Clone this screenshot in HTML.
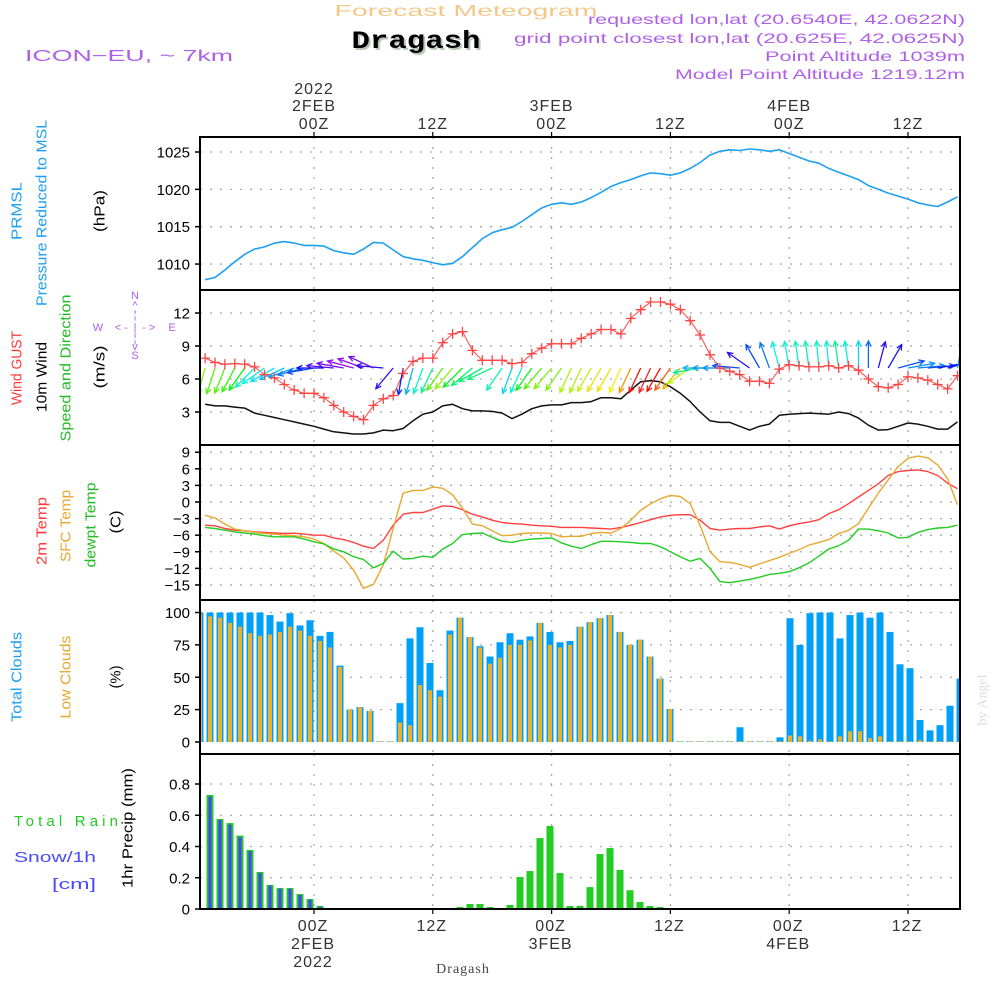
<!DOCTYPE html>
<html><head><meta charset="utf-8"><title>Meteogram Dragash</title>
<style>
html,body{margin:0;padding:0;background:#fff;}
svg{display:block;}
text{font-family:"Liberation Sans",sans-serif;}
</style></head>
<body>
<svg id="chart" xmlns="http://www.w3.org/2000/svg" width="1000" height="1000" viewBox="0 0 1000 1000">
<rect x="0" y="0" width="1000" height="1000" fill="#fff"/>
<text x="466" y="16" text-anchor="middle" font-size="16" fill="#f3c98a" textLength="263" lengthAdjust="spacingAndGlyphs">Forecast Meteogram</text>
<text x="418" y="50" text-anchor="middle" font-size="25" font-weight="bold" fill="#b8c8b8" style="font-family:'Liberation Mono',monospace" textLength="129" lengthAdjust="spacingAndGlyphs">Dragash</text>
<text x="416" y="48" text-anchor="middle" font-size="25" font-weight="bold" fill="#000" style="font-family:'Liberation Mono',monospace" textLength="129" lengthAdjust="spacingAndGlyphs">Dragash</text>
<text x="25" y="61" font-size="16" fill="#b060e8" textLength="208" lengthAdjust="spacingAndGlyphs">ICON−EU, ~ 7km</text>
<text x="965" y="24" text-anchor="end" font-size="14" fill="#b060e8" textLength="377" lengthAdjust="spacingAndGlyphs">requested lon,lat (20.6540E, 42.0622N)</text>
<text x="965" y="43" text-anchor="end" font-size="14" fill="#b060e8" textLength="451" lengthAdjust="spacingAndGlyphs">grid point closest lon,lat (20.625E, 42.0625N)</text>
<text x="965" y="61" text-anchor="end" font-size="14" fill="#b060e8" textLength="200" lengthAdjust="spacingAndGlyphs">Point Altitude 1039m</text>
<text x="965" y="79" text-anchor="end" font-size="14" fill="#b060e8" textLength="290" lengthAdjust="spacingAndGlyphs">Model Point Altitude 1219.12m</text>

<g>
<text transform="translate(17,211) rotate(-90)" text-anchor="middle" dominant-baseline="central" font-size="15" fill="#1ea0f0" textLength="58" lengthAdjust="spacingAndGlyphs">PRMSL</text>
<text transform="translate(42,213) rotate(-90)" text-anchor="middle" dominant-baseline="central" font-size="15" fill="#1ea0f0" textLength="186" lengthAdjust="spacingAndGlyphs">Pressure Reduced to MSL</text>
<text transform="translate(100,211) rotate(-90)" text-anchor="middle" dominant-baseline="central" font-size="15" fill="#000" textLength="42" lengthAdjust="spacingAndGlyphs">(hPa)</text>
<text transform="translate(17,368) rotate(-90)" text-anchor="middle" dominant-baseline="central" font-size="15" fill="#ff3838" textLength="74" lengthAdjust="spacingAndGlyphs">Wind GUST</text>
<text transform="translate(42,377) rotate(-90)" text-anchor="middle" dominant-baseline="central" font-size="15" fill="#000" textLength="70" lengthAdjust="spacingAndGlyphs">10m Wind</text>
<text transform="translate(66,368) rotate(-90)" text-anchor="middle" dominant-baseline="central" font-size="15" fill="#22bb22" textLength="147" lengthAdjust="spacingAndGlyphs">Speed and Direction</text>
<text transform="translate(100,367) rotate(-90)" text-anchor="middle" dominant-baseline="central" font-size="15" fill="#000" textLength="43" lengthAdjust="spacingAndGlyphs">(m/s)</text>
<g fill="#b060e8" font-size="11" text-anchor="middle">
<text x="135" y="299">N</text><text x="135" y="309">^</text><text x="135" y="318">¦</text>
<text x="98" y="331">W</text>
<text x="118" y="331">&lt;</text><text x="126" y="331">-</text><text x="135" y="331">|</text><text x="144" y="331">-</text><text x="152" y="331">&gt;</text>
<text x="172" y="331">E</text>
<text x="135" y="342">¦</text><text x="135" y="350">v</text><text x="135" y="359">S</text>
</g>
<text transform="translate(42,531) rotate(-90)" text-anchor="middle" dominant-baseline="central" font-size="15" fill="#ff3838" textLength="68" lengthAdjust="spacingAndGlyphs">2m Temp</text>
<text transform="translate(66,526) rotate(-90)" text-anchor="middle" dominant-baseline="central" font-size="15" fill="#e8a830" textLength="72" lengthAdjust="spacingAndGlyphs">SFC Temp</text>
<text transform="translate(91,525) rotate(-90)" text-anchor="middle" dominant-baseline="central" font-size="15" fill="#22bb22" textLength="85" lengthAdjust="spacingAndGlyphs">dewpt Temp</text>
<text transform="translate(116,522) rotate(-90)" text-anchor="middle" dominant-baseline="central" font-size="15" fill="#000" textLength="23" lengthAdjust="spacingAndGlyphs">(C)</text>
<text transform="translate(17,677) rotate(-90)" text-anchor="middle" dominant-baseline="central" font-size="15" fill="#1ea0f0" textLength="90" lengthAdjust="spacingAndGlyphs">Total Clouds</text>
<text transform="translate(66,677) rotate(-90)" text-anchor="middle" dominant-baseline="central" font-size="15" fill="#e8a830" textLength="83" lengthAdjust="spacingAndGlyphs">Low Clouds</text>
<text transform="translate(116,677) rotate(-90)" text-anchor="middle" dominant-baseline="central" font-size="15" fill="#000" textLength="23" lengthAdjust="spacingAndGlyphs">(%)</text>
<text transform="translate(128,828) rotate(-90)" text-anchor="middle" dominant-baseline="central" font-size="15" fill="#000" textLength="120" lengthAdjust="spacingAndGlyphs">1hr Precip (mm)</text>
<text x="14" y="826" font-size="15" fill="#22cc22" textLength="104" lengthAdjust="spacing">Total   Rain</text>
<text x="14" y="862" font-size="15" fill="#4a4aff" textLength="82" lengthAdjust="spacingAndGlyphs">Snow/1h</text>
<text x="52" y="889" font-size="15" fill="#4a4aff" textLength="44" lengthAdjust="spacingAndGlyphs">[cm]</text>
<text transform="translate(983,700) rotate(-90)" text-anchor="middle" dominant-baseline="central" font-size="14" fill="#dcdcdc" style="font-family:'Liberation Serif',serif">by Angel</text>
<text x="463" y="973" text-anchor="middle" font-size="14" fill="#444" style="font-family:'Liberation Serif',serif" letter-spacing="1">Dragash</text>
</g>
<g id="plots"></g>
</svg>
<script>
const hours = [-11,-10,-9,-8,-7,-6,-5,-4,-3,-2,-1,0,1,2,3,4,5,6,7,8,9,10,11,12,13,14,15,16,17,18,19,20,21,22,23,24,25,26,27,28,29,30,31,32,33,34,35,36,37,38,39,40,41,42,43,44,45,46,47,48,49,50,51,52,53,54,55,56,57,58,59,60,61,62,63,64,65];
const pressure = [1007.9,1008.2,1009.2,1010.3,1011.3,1012.0,1012.3,1012.8,1013.0,1012.8,1012.5,
 1012.5,1012.4,1011.8,1011.5,1011.3,1012.0,1012.9,1012.8,1011.9,1011.0,
 1010.7,1010.5,1010.2,1009.9,1010.1,1011.0,1012.2,1013.4,1014.2,1014.6,
 1014.9,1015.7,1016.6,1017.5,1018.0,1018.2,1018.0,1018.3,1018.9,1019.6,
 1020.4,1020.9,1021.3,1021.8,1022.2,1022.1,1021.9,1022.2,1022.8,1023.6,
 1024.6,1025.1,1025.3,1025.2,1025.4,1025.3,1025.1,1025.3,1024.8,1024.3,
 1023.8,1023.5,1022.8,1022.3,1021.8,1021.3,1020.5,1020.0,1019.5,1019.1,
 1018.7,1018.2,1017.9,1017.7,1018.3,1019.0];
const gust = [7.9,7.5,7.35,7.4,7.35,7.1,6.4,6.1,5.5,5.0,4.7,
 4.7,4.3,3.6,3.0,2.6,2.3,3.6,4.2,4.5,6.5,
 7.6,7.9,7.9,9.3,10.1,10.3,8.6,7.7,7.7,7.7,
 7.4,7.5,8.3,8.8,9.2,9.2,9.2,9.7,10.1,10.5,
 10.5,10.1,11.5,12.3,13.0,13.0,12.8,12.3,11.3,10.0,
 8.2,7.0,6.7,6.4,5.8,5.8,5.6,6.9,7.3,7.2,
 7.1,7.1,7.2,7.0,7.2,6.8,6.0,5.3,5.2,5.5,
 6.2,6.1,5.9,5.5,5.1,6.3];
const windSpeed = [3.7,3.55,3.55,3.45,3.35,2.9,2.7,2.5,2.3,2.1,1.9,
 1.7,1.45,1.2,1.1,1.0,1.0,1.1,1.35,1.3,1.5,
 2.2,2.8,3.0,3.55,3.7,3.3,3.1,3.1,3.05,2.9,
 2.4,2.8,3.3,3.55,3.65,3.65,3.85,3.85,3.95,4.3,
 4.3,4.2,5.0,5.75,5.85,5.75,5.3,4.7,3.95,3.0,
 2.2,2.05,2.05,1.7,1.35,1.7,1.9,2.7,2.8,2.85,
 2.9,2.85,2.8,3.0,2.85,2.45,1.8,1.35,1.4,1.7,
 2.0,1.9,1.7,1.45,1.45,2.1];
// meteorological direction the wind blows FROM (degrees)
const windDir = [15,18,22,28,35,45,55,60,65,70,75,
 80,90,95,100,105,110,115,95,40,10,
 15,20,25,35,40,45,50,60,65,35,
 20,25,35,40,40,35,25,25,30,30,
 30,25,25,25,25,30,35,40,55,80,
 90,90,90,95,125,150,160,165,170,172,
 172,175,175,172,172,180,180,195,210,255,
 260,265,265,260,255,190];
const t2m = [-4.2,-4.3,-4.8,-5.1,-5.2,-5.4,-5.5,-5.6,-5.7,-5.65,-5.8,
 -6.0,-6.0,-6.5,-6.8,-7.3,-8.0,-8.4,-6.9,-4.2,-2.2,
 -1.9,-1.9,-1.3,-0.7,-0.8,-1.4,-2.2,-2.7,-3.3,-3.7,
 -3.9,-4.0,-4.2,-4.3,-4.4,-4.6,-4.6,-4.6,-4.7,-4.8,
 -4.9,-4.6,-4.2,-3.7,-3.2,-2.7,-2.4,-2.3,-2.3,-3.3,
 -4.8,-5.1,-4.9,-4.8,-4.8,-4.5,-4.3,-4.9,-4.3,-3.9,
 -3.6,-3.2,-2.1,-1.4,-0.3,0.9,2.1,3.3,4.8,5.5,
 5.7,5.8,5.5,4.8,3.4,2.4];
const sfcTemp = [-2.4,-2.9,-4.0,-4.9,-5.2,-5.5,-5.7,-5.8,-6.0,-6.1,-6.3,
 -6.7,-7.5,-8.9,-10.1,-12.3,-15.6,-14.9,-11.4,-4.8,1.6,
 2.1,2.1,2.7,2.5,1.3,-1.1,-4.0,-4.3,-5.2,-6.1,
 -6.0,-5.7,-5.6,-5.6,-5.7,-6.3,-6.2,-6.2,-5.7,-5.5,
 -5.6,-4.8,-3.3,-1.5,-0.3,0.6,1.2,1.0,-0.3,-4.2,
 -9.0,-10.8,-10.9,-11.3,-11.8,-11.2,-10.6,-10.0,-9.3,-8.6,
 -7.8,-7.3,-6.8,-5.7,-5.1,-3.9,-1.1,1.6,4.0,6.4,
 7.9,8.3,8.0,6.7,4.2,-0.5];
const dewpt = [-4.6,-4.8,-5.1,-5.4,-5.6,-5.8,-6.1,-6.3,-6.3,-6.3,-6.7,
 -7.2,-7.6,-8.5,-9.0,-9.9,-10.4,-11.9,-11.1,-8.9,-10.3,
 -10.2,-9.8,-10.0,-8.5,-7.5,-5.9,-5.7,-5.6,-6.4,-7.1,
 -7.3,-6.9,-6.7,-6.6,-6.5,-7.4,-8.0,-8.4,-7.7,-7.1,
 -7.1,-7.2,-7.3,-7.5,-7.5,-8.1,-9.0,-9.9,-10.7,-10.2,
 -12.0,-14.4,-14.6,-14.3,-14.0,-13.6,-13.1,-12.9,-12.6,-11.9,
 -11.0,-9.8,-8.5,-7.9,-6.9,-4.9,-4.9,-5.2,-5.6,-6.5,
 -6.4,-5.5,-5.0,-4.7,-4.6,-4.2];
const totalClouds = [100,100,100,100,100,100,100,98,93,99.5,90,
 94,82,85,59,25,27,24,0.5,0.5,30,
 80,88.6,61,40,86,96,81,74,66,77,
 84,79,81.5,92,85,77,78,89,92.5,95.6,
 98,85,75,79,66,49,25.5,0.5,0.5,0.5,
 0.5,0.5,0.5,11.4,0.5,0.5,0.5,3.6,95.6,75,
 99.5,100,100,80,98,100,96,100,85,60,
 57,17,9,13,28,49];
const lowClouds = [98.7,97,96,92,89,84,82,83,85,89,86,
 82,78,73,58,25,27,24,0.5,0.5,15,
 13,44,40,35,83,96,81,73,60.5,65,
 75,75,78.4,92,75,73,75,89,92.5,95.6,
 98,85,75,79,66,49,25.5,0.5,0.5,0.5,
 0.5,0.5,0.5,0.5,0.5,0.5,0.5,0.5,5,4.4,
 1,2,0.5,4.4,8.3,8.3,3,4.4,0.5,0.5,
 0.5,1.3,0.5,0.5,0.5,0.5];
const rain = [0,0.73,0.576,0.55,0.47,0.378,0.237,0.154,0.134,0.134,0.096,
 0.064,0.02,0.003,0,0,0,0,0,0,0,
 0,0,0,0,0,0.013,0.032,0.032,0.013,0,
 0.026,0.205,0.243,0.454,0.531,0.23,0.02,0.02,0.14,0.352,
 0.39,0.25,0.12,0.045,0.02,0.013,0,0,0,0,
 0,0,0,0,0,0,0,0,0,0,
 0,0,0,0,0,0,0,0,0,0,
 0,0,0,0,0,0];
const snow = [0,0.72,0.57,0.54,0.46,0.37,0.23,0.15,0.13,0.13,0.09,
 0.06,0.015,0.003,0,0,0,0,0,0,0,
 0,0,0,0,0,0,0,0,0,0,
 0,0,0,0,0,0,0,0,0,0,
 0,0,0,0,0,0,0,0,0,0,
 0,0,0,0,0,0,0,0,0,0,
 0,0,0,0,0,0,0,0,0,0,
 0,0,0,0,0,0];
const pressTicks = [1010,1015,1020,1025];
const windTicks = [3,6,9,12];
const tempTicks = [9,6,3,0,-3,-6,-9,-12,-15];
const cloudTicks = [0,25,50,75,100];
const precipTicks = [0,0.2,0.4,0.6,0.8];
const timeTickHours = [0,12,24,36,48,60];
const timeTickLabels = ["00Z","12Z","00Z","12Z","00Z","12Z"];
const dayLabels = ["2FEB","","3FEB","","4FEB",""];

const NS = "http://www.w3.org/2000/svg";
const root = document.getElementById('plots');
function mk(tag, attrs, parent){
  const e = document.createElementNS(NS, tag);
  for (const k in attrs) e.setAttribute(k, attrs[k]);
  (parent||root).appendChild(e);
  return e;
}
const X0 = 200, X1 = 960;
const xLine = h => 314 + 9.9*h;
const xBar = h => 310 + 10*h;
const yP = p => 152 + (1025-p)*7.47;
const yW = v => 412 - (v-3)*11;
const yT = t => 502 - t*5.53;
const yC = c => 742 - c*1.295;
const yR = r => 909 - r*156.25;
const panels = [[137,290],[290,445],[445,600],[600,754],[754,909]];
const panelNames = ['pressure-panel','wind-panel','temperature-panel','cloud-panel','precip-panel'];

const defs = mk('defs', {});
panels.forEach((p,i)=>{
  const cp = mk('clipPath', {id:'clip'+i}, defs);
  mk('rect', {x:X0, y:p[0], width:X1-X0, height:p[1]-p[0]}, cp);
});

const groups = panels.map((p,i)=>{
  const g = mk('g', {'clip-path':'url(#clip'+i+')'});
  
  
  return g;
});

function hGrid(g, y){
  const l = mk('line', {x1:X0, x2:X1, y1:y, y2:y, stroke:'#aaa', 'stroke-width':1.3, 'stroke-dasharray':'2,8'}, g);
  
  
}
function vGrids(g, i){
  timeTickHours.forEach(h=>{
    const l = mk('line', {x1:xLine(h), x2:xLine(h), y1:panels[i][0], y2:panels[i][1], stroke:'#aaa', 'stroke-width':1.3, 'stroke-dasharray':'2,8'}, g);
    
    
  });
}
groups.forEach((g,i)=>vGrids(g,i));
pressTicks.forEach(v=>hGrid(groups[0], yP(v)));
windTicks.forEach(v=>hGrid(groups[1], yW(v)));
tempTicks.forEach(v=>hGrid(groups[2], yT(v)));
cloudTicks.forEach(v=>{ if(v>0) hGrid(groups[3], yC(v)); });
precipTicks.forEach(v=>{ if(v>0) hGrid(groups[4], yR(v)); });

function yLabels(ticks, fy, name, fmt){
  ticks.forEach(v=>{
    const t = mk('text', {x:190, y:fy(v)+5.5, 'text-anchor':'end', 'font-size':15, fill:'#000'});
    t.textContent = fmt ? fmt(v) : String(v);
    
    
    const tk = mk('line', {x1:195, x2:200, y1:fy(v), y2:fy(v), stroke:'#000', 'stroke-width':1.5});
    
    
  });
}
yLabels(pressTicks, yP, 'pressure-tick-label');
yLabels(windTicks, yW, 'wind-tick-label');
yLabels(tempTicks, yT, 'temp-tick-label', v=> v<0 ? '−'+Math.abs(v) : String(v));
yLabels(cloudTicks, yC, 'cloud-tick-label');
yLabels(precipTicks, yR, 'precip-tick-label', v=> v===0 ? '0' : v.toFixed(1));

function polyline(g, vals, fy, color, name, w){
  const pts = vals.map((v,i)=> xLine(hours[i]).toFixed(1)+','+fy(v).toFixed(1)).join(' ');
  const pl = mk('polyline', {points:pts, fill:'none', stroke:color, 'stroke-width':w||1.5, 'stroke-linejoin':'round'}, g);
  
  
  return pl;
}

polyline(groups[0], pressure, yP, '#1ea0f0', 'pressure-line', 1.6);

polyline(groups[1], windSpeed, yW, '#111', 'wind-speed-line', 1.5);
polyline(groups[1], gust, yW, '#ff4444', 'gust-line', 1);
const spdStops = [1,1.5,2,2.5,2.9,3.3,3.7,4.3,5,5.8];
const hueStops = [275,235,205,185,165,125,85,55,35,0];
function speedColor(s){
  if (s<=spdStops[0]) return 'hsl('+hueStops[0]+',90%,50%)';
  for (let i=1;i<spdStops.length;i++){
    if (s<=spdStops[i]){
      const f=(s-spdStops[i-1])/(spdStops[i]-spdStops[i-1]);
      return 'hsl('+(hueStops[i-1]+f*(hueStops[i]-hueStops[i-1])).toFixed(0)+',90%,50%)';
    }
  }
  return 'hsl(0,90%,55%)';
}
hours.forEach((h,i)=>{
  const x = xLine(h), y = 368, L = 27;
  const a = (windDir[i] + 90) * Math.PI/180;
  const hx = x + L*Math.cos(a), hy = y + L*Math.sin(a);
  const col = speedColor(windSpeed[i]);
  const g = mk('g', {stroke:col, 'stroke-width':1.3, fill:'none'}, groups[1]);
  
  
  mk('line', {x1:x, y1:y, x2:hx, y2:hy}, g);
  const b1 = a + Math.PI - 0.45, b2 = a + Math.PI + 0.45;
  mk('polyline', {points: (hx+6*Math.cos(b1))+','+(hy+6*Math.sin(b1))+' '+hx+','+hy+' '+(hx+6*Math.cos(b2))+','+(hy+6*Math.sin(b2))}, g);
});
hours.forEach((h,i)=>{
  const x = xLine(h), y = yW(gust[i]);
  const m = mk('path', {d:'M'+(x-5)+','+y+'H'+(x+5)+'M'+x+','+(y-5)+'V'+(y+5), stroke:'#ff4444', 'stroke-width':1.3}, groups[1]);
  
  
});

polyline(groups[2], t2m, yT, '#ff4040', 't2m-line', 1.4);
polyline(groups[2], sfcTemp, yT, '#e8a830', 'sfc-temp-line', 1.4);
polyline(groups[2], dewpt, yT, '#22cc22', 'dewpt-line', 1.4);

hours.forEach((h,i)=>{
  const x = xBar(h);
  const r1 = mk('rect', {x:x-3.5, y:yC(totalClouds[i]), width:7, height:742-yC(totalClouds[i]), fill:'#00a0f8'}, groups[3]);
  
  
  const r2 = mk('rect', {x:x-2, y:yC(lowClouds[i]), width:4, height:742-yC(lowClouds[i]), fill:'#e8b030'}, groups[3]);
  
  
});

hours.forEach((h,i)=>{
  const x = xBar(h);
  if (rain[i] > 0){
    const r1 = mk('rect', {x:x-3.5, y:yR(rain[i]), width:7, height:909-yR(rain[i]), fill:'#22cc22'}, groups[4]);
    
    
  }
  if (snow[i] > 0){
    const r2 = mk('rect', {x:x-1.5, y:yR(snow[i]), width:3, height:909-yR(snow[i]), fill:'#4444ff'}, groups[4]);
    
    
  }
});

panels.forEach((p,i)=>{
  const r = mk('rect', {x:X0, y:p[0], width:X1-X0, height:p[1]-p[0], fill:'none', stroke:'#000', 'stroke-width':2});
  
  
});

timeTickHours.forEach((h,i)=>{
  const x = xLine(h);
  const tt = mk('line', {x1:x, x2:x, y1:132, y2:137, stroke:'#000', 'stroke-width':1.2});
  
  
  const bt = mk('line', {x1:x, x2:x, y1:909, y2:914, stroke:'#000', 'stroke-width':1.2});
  
  
  const t1 = mk('text', {x:x, y:129, 'text-anchor':'middle', 'font-size':16, fill:'#333', 'letter-spacing':1});
  t1.textContent = timeTickLabels[i];
  
  
  const b1 = mk('text', {x:x-1, y:931, 'text-anchor':'middle', 'font-size':16, fill:'#333', 'letter-spacing':1});
  b1.textContent = timeTickLabels[i];
  
  
  if (dayLabels[i]){
    const t2 = mk('text', {x:x, y:111, 'text-anchor':'middle', 'font-size':16, fill:'#333', 'letter-spacing':1});
    t2.textContent = dayLabels[i];
    
    
    const b2 = mk('text', {x:x-1, y:949, 'text-anchor':'middle', 'font-size':16, fill:'#333', 'letter-spacing':1});
    b2.textContent = dayLabels[i];
    
    
  }
  if (i === 0){
    const t3 = mk('text', {x:x, y:94, 'text-anchor':'middle', 'font-size':16, fill:'#333', 'letter-spacing':1});
    t3.textContent = '2022';
    
    
    const b3 = mk('text', {x:x-1, y:967, 'text-anchor':'middle', 'font-size':16, fill:'#333', 'letter-spacing':1});
    b3.textContent = '2022';
    
    
  }
});
</script>
</body></html>
